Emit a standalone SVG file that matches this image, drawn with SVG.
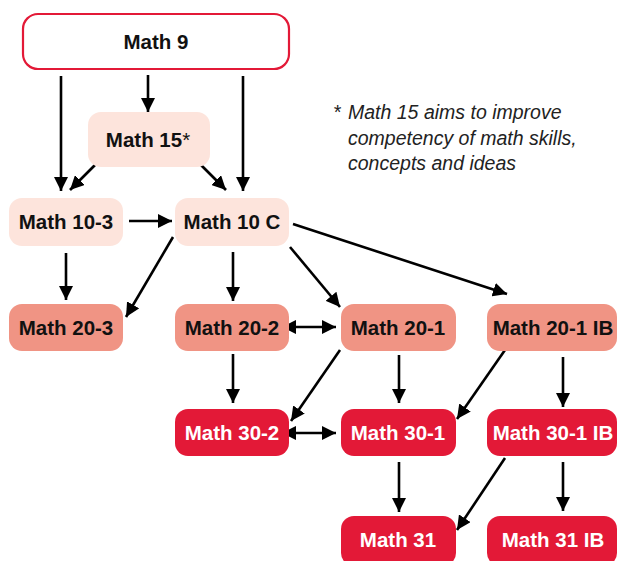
<svg xmlns="http://www.w3.org/2000/svg" width="618" height="561" viewBox="0 0 618 561">
<style>
.lt{fill:#fde4dc}
.md{fill:#f09484}
.dk{fill:#e31937}
.t{font-family:"Liberation Sans",Arial,sans-serif;font-weight:bold;font-size:20.5px;text-anchor:middle;fill:#111}
.w{fill:#fff}
.c line{stroke:#000;stroke-width:2.6}
.note{font-family:"Liberation Sans",Arial,sans-serif;font-style:italic;font-size:19.5px;fill:#222}
</style>
<defs>
<marker id="ah" viewBox="0 0 10 10" refX="10" refY="5" markerWidth="5.4" markerHeight="5.4" orient="auto" markerUnits="strokeWidth">
<path d="M0,0 L10,5 L0,10 z" fill="#000"/>
</marker>
<marker id="as" viewBox="0 0 10 10" refX="0" refY="5" markerWidth="5.4" markerHeight="5.4" orient="auto-start-reverse" markerUnits="strokeWidth">
<path d="M0,0 L10,5 L0,10 z" fill="#000"/>
</marker>
</defs>
<rect width="618" height="561" fill="#fff"/>
<g class="c">
<line x1="61" y1="76" x2="61" y2="191" marker-end="url(#ah)"/>
<line x1="148" y1="75" x2="148" y2="112" marker-end="url(#ah)"/>
<line x1="243" y1="76" x2="243" y2="191" marker-end="url(#ah)"/>
<line x1="95" y1="165" x2="70" y2="190" marker-end="url(#ah)"/>
<line x1="201" y1="165" x2="226" y2="190" marker-end="url(#ah)"/>
<line x1="129" y1="221" x2="172" y2="221" marker-end="url(#ah)"/>
<line x1="66" y1="253" x2="66" y2="300" marker-end="url(#ah)"/>
<line x1="173" y1="237" x2="126" y2="317" marker-end="url(#ah)"/>
<line x1="233" y1="252" x2="233" y2="301" marker-end="url(#ah)"/>
<line x1="290" y1="247" x2="340" y2="307" marker-end="url(#ah)"/>
<line x1="293" y1="224" x2="507" y2="294" marker-end="url(#ah)"/>
<line x1="296" y1="327" x2="336" y2="327" marker-start="url(#as)" marker-end="url(#ah)"/>
<line x1="233" y1="354" x2="233" y2="403" marker-end="url(#ah)"/>
<line x1="340" y1="350" x2="291" y2="421" marker-end="url(#ah)"/>
<line x1="399" y1="355" x2="399" y2="403" marker-end="url(#ah)"/>
<line x1="296" y1="433" x2="336" y2="433" marker-start="url(#as)" marker-end="url(#ah)"/>
<line x1="505" y1="350" x2="457" y2="419" marker-end="url(#ah)"/>
<line x1="563" y1="357" x2="563" y2="407" marker-end="url(#ah)"/>
<line x1="399" y1="462" x2="399" y2="512" marker-end="url(#ah)"/>
<line x1="505" y1="458" x2="457" y2="530" marker-end="url(#ah)"/>
<line x1="563" y1="462" x2="563" y2="511" marker-end="url(#ah)"/>
</g>
<g id="math9"><rect x="23" y="14" width="266" height="55" rx="15" fill="#fff" stroke="#e31937" stroke-width="2.2"/><text class="t" x="156" y="49">Math 9</text></g>
<g id="math15"><rect class="lt" x="88" y="112" width="122" height="55" rx="13"/><text class="t" x="148" y="147"><tspan>Math 15</tspan><tspan font-weight="normal">*</tspan></text></g>
<g id="math10-3"><rect class="lt" x="9" y="198" width="114" height="48" rx="13"/><text class="t" x="66" y="229">Math 10-3</text></g>
<g id="math10c"><rect class="lt" x="175" y="198" width="114" height="48" rx="13"/><text class="t" x="232" y="229">Math 10 C</text></g>
<g id="math20-3"><rect class="md" x="9" y="304" width="114" height="47" rx="13"/><text class="t" x="66" y="335">Math 20-3</text></g>
<g id="math20-2"><rect class="md" x="175" y="304" width="114" height="47" rx="13"/><text class="t" x="232" y="335">Math 20-2</text></g>
<g id="math20-1"><rect class="md" x="341" y="304" width="115" height="47" rx="13"/><text class="t" x="398" y="335">Math 20-1</text></g>
<g id="math20-1ib"><rect class="md" x="487" y="304" width="130" height="47" rx="13"/><text class="t" x="553" y="335">Math 20-1 IB</text></g>
<g id="math30-2"><rect class="dk" x="175" y="409" width="114" height="47" rx="13"/><text class="t w" x="232" y="440">Math 30-2</text></g>
<g id="math30-1"><rect class="dk" x="341" y="409" width="115" height="47" rx="13"/><text class="t w" x="398" y="440">Math 30-1</text></g>
<g id="math30-1ib"><rect class="dk" x="487" y="409" width="130" height="47" rx="13"/><text class="t w" x="553" y="440">Math 30-1 IB</text></g>
<g id="math31"><rect class="dk" x="341" y="516" width="115" height="50" rx="13"/><text class="t w" x="398" y="547">Math 31</text></g>
<g id="math31ib"><rect class="dk" x="487" y="516" width="130" height="50" rx="13"/><text class="t w" x="553" y="547">Math 31 IB</text></g>
<g id="note" class="note">
<text x="333" y="119">*</text>
<text x="348" y="119">Math 15 aims to improve</text>
<text x="348" y="145">competency of math skills,</text>
<text x="348" y="170">concepts and ideas</text>
</g>
</svg>
